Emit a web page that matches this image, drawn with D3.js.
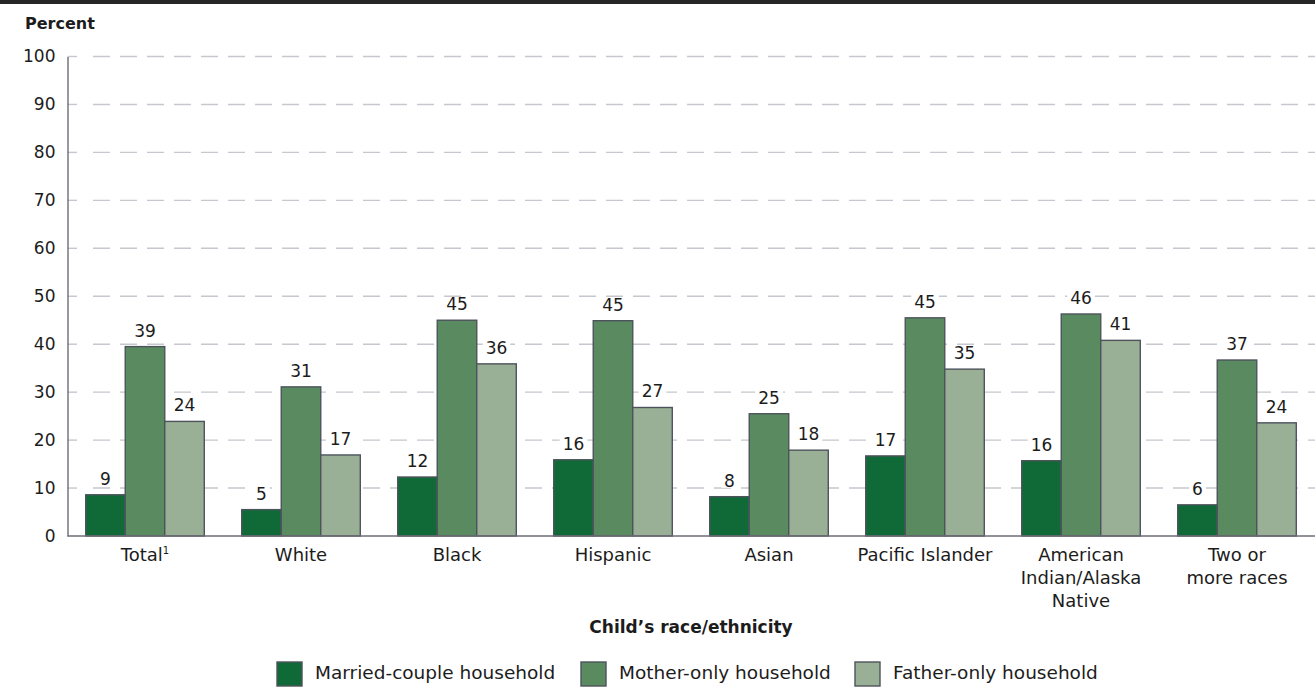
<!DOCTYPE html>
<html><head><meta charset="utf-8">
<script src="https://cdn.jsdelivr.net/npm/d3@7"></script>
<style>
body{margin:0;background:#fff;}
text{font-family:"DejaVu Sans",sans-serif;fill:#1c1c1c;}
</style></head>
<body><svg id="c" width="1315" height="688"></svg>
<script>
const categories = ["Total¹","White","Black","Hispanic","Asian","Pacific Islander","American|Indian/Alaska|Native","Two or|more races"];
const seriesNames = ["Married-couple household","Mother-only household","Father-only household"];
const married = [8.6,5.5,12.3,15.9,8.2,16.7,15.7,6.5];
const mother = [39.5,31.1,45.0,44.9,25.5,45.5,46.3,36.7];
const father = [23.9,16.9,35.9,26.8,17.9,34.8,40.8,23.6];
const marriedLabels = [9,5,12,16,8,17,16,6];
const motherLabels = [39,31,45,45,25,45,46,37];
const fatherLabels = [24,17,36,27,18,35,41,24];
const yTicks = [0,10,20,30,40,50,60,70,80,90,100];
const colors = ["#0f6a37","#5a8a60","#9ab096"];

const svg = d3.select("#c");
const W=1315, X0=67.5;
svg.append("rect").attr("x",0).attr("y",0).attr("width",W).attr("height",4).attr("fill","#262626");

const x0 = d3.scaleBand().domain(d3.range(categories.length)).range([67,1315]).paddingInner(0.24).paddingOuter(0.12);
const x1 = d3.scaleBand().domain([0,1,2]).range([0,x0.bandwidth()]);
const y = d3.scaleLinear().domain([0,100]).range([536,56.5]);

// grid
const grid = svg.append("g");
grid.selectAll("line.t").data(yTicks.filter(d=>d>0)).join("line").attr("class","t")
  .attr("x1",X0).attr("x2",77).attr("y1",d=>y(d)).attr("y2",d=>y(d))
  .attr("stroke","#c6c7cf").attr("stroke-width",1.4);
grid.selectAll("line.g").data(yTicks.filter(d=>d>0)).join("line").attr("class","g")
  .attr("x1",93).attr("x2",W).attr("y1",d=>y(d)).attr("y2",d=>y(d))
  .attr("stroke","#c6c7cf").attr("stroke-width",1.4).attr("stroke-dasharray","17,10");

// y axis
const yAxis = d3.axisLeft(y).tickValues(yTicks).tickSize(0).tickPadding(12);
const gy = svg.append("g").attr("transform",`translate(${X0},0)`).call(yAxis);
gy.select(".domain").attr("stroke","#6b6e76").attr("stroke-width",1.4);
gy.selectAll("text").attr("font-size",17).attr("fill","#1c1c1c").style("font-family","'DejaVu Sans',sans-serif");

const series = [married,mother,father];
const labels = [marriedLabels,motherLabels,fatherLabels];
const data = [];
categories.forEach((c,i)=>series.forEach((s,j)=>data.push({i,j,v:s[i],l:labels[j][i]})));

const bars = svg.append("g");
bars.selectAll("rect").data(data).join("rect")
  .attr("x",d=>x0(d.i)+x1(d.j)).attr("width",x1.bandwidth())
  .attr("y",d=>y(d.v)).attr("height",d=>y(0)-y(d.v))
  .attr("fill",d=>colors[d.j]).attr("stroke","#4d535c").attr("stroke-width",1.4);

// value labels with white backing to break grid lines
const lab = svg.append("g");
data.forEach(d=>{
  const cx = x0(d.i)+x1(d.j)+x1.bandwidth()/2;
  const ty = y(d.v)-10;
  const t = lab.append("text").attr("x",cx).attr("y",ty).attr("text-anchor","middle").attr("font-size",17).text(d.l);
  const bb = t.node().getBBox();
  lab.insert("rect","text").attr("x",bb.x-3).attr("y",bb.y+3).attr("width",bb.width+6).attr("height",bb.height-6).attr("fill","#fff");
});

// x axis baseline
svg.append("line").attr("x1",X0).attr("x2",W).attr("y1",536).attr("y2",536).attr("stroke","#6b6e76").attr("stroke-width",1.5);

// x labels
const gx = svg.append("g");
categories.forEach((c,i)=>{
  const cx = x0(i)+x0.bandwidth()/2;
  const lines = c.split("|");
  const t = gx.append("text").attr("x",cx).attr("y",555).attr("text-anchor","middle").attr("font-size",18);
  lines.forEach((ln,k)=>{
    if(ln.endsWith("¹")){
      t.append("tspan").attr("x",cx).attr("dy",k===0?"0.35em":23).text(ln.slice(0,-1));
      t.append("tspan").attr("font-size",10).attr("dy",-7).text("1");
    } else {
      t.append("tspan").attr("x",cx).attr("dy",k===0?"0.35em":23).text(ln);
    }
  });
});

// titles
svg.append("text").attr("x",25).attr("y",23).attr("dy","0.35em").attr("font-size",16).attr("font-weight","bold").text("Percent");
svg.append("text").attr("x",691).attr("y",627).attr("dy","0.35em").attr("text-anchor","middle").attr("font-size",17).attr("font-weight","bold").text("Child’s race/ethnicity");

// legend
const legX = [277,581,855];
const lg = svg.append("g");
seriesNames.forEach((n,j)=>{
  lg.append("rect").attr("x",legX[j]).attr("y",662).attr("width",25).attr("height",24)
    .attr("fill",colors[j]).attr("stroke","#4d535c").attr("stroke-width",1.4);
  lg.append("text").attr("x",legX[j]+38).attr("y",673).attr("dy","0.35em").attr("font-size",18.5).text(n);
});
</script></body></html>
